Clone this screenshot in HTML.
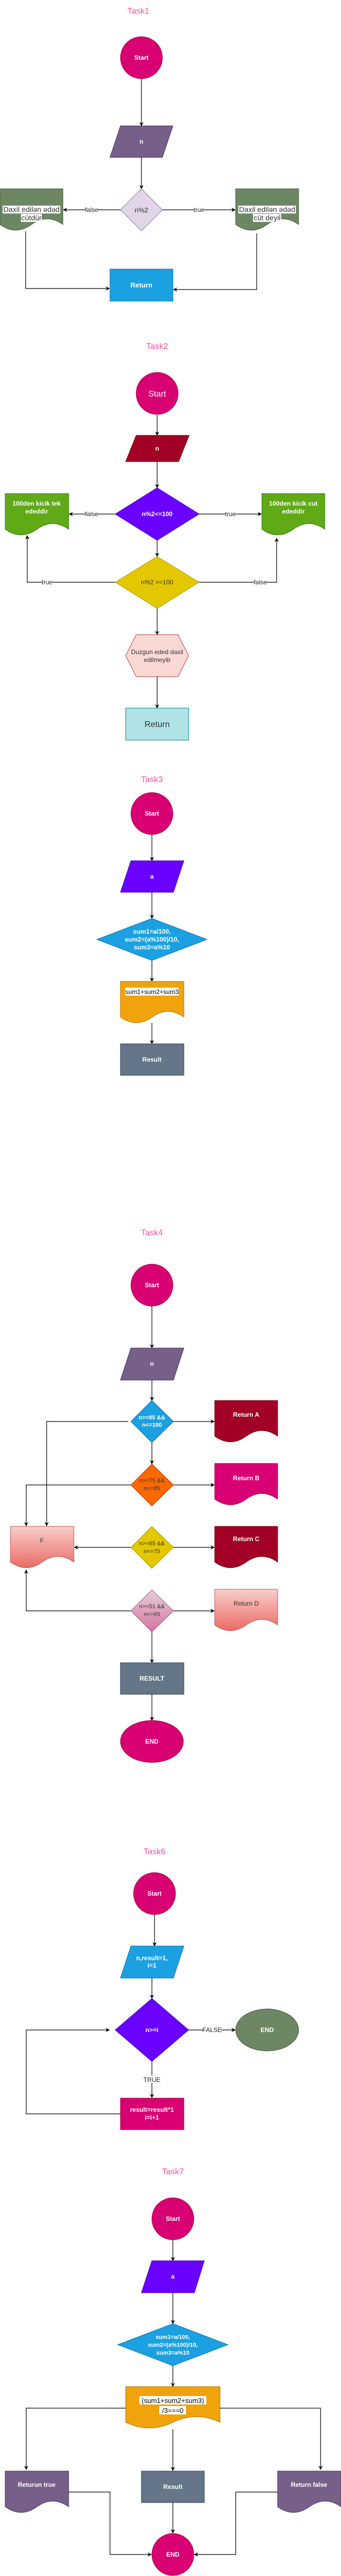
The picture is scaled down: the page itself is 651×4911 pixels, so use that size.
<!DOCTYPE html>
<html><head><meta charset="utf-8"><style>
html,body{margin:0;padding:0;background:#fff;}
svg{display:block;}
text{font-family:"Liberation Sans",Arial,sans-serif;}
.t{font-size:16px;fill:#ff4da6;text-anchor:middle;}
.w{font-size:12px;fill:#fff;font-weight:bold;text-anchor:middle;}
.d{font-size:12px;fill:#333;text-anchor:middle;}
.l{font-size:12px;fill:#222;text-anchor:middle;}
.c{stroke:#000;stroke-width:1.2;fill:none;}
</style></head><body>
<svg width="651" height="4911" viewBox="0 0 651 4911" xmlns="http://www.w3.org/2000/svg">
<defs>
<marker id="a" viewBox="0 0 10 10" refX="9" refY="5" markerWidth="8" markerHeight="8" orient="auto" markerUnits="userSpaceOnUse"><path d="M0,0 L10,5 L0,10 L3,5 Z" fill="#000"/></marker>
<linearGradient id="gr" x1="0" y1="0" x2="0" y2="1"><stop offset="0" stop-color="#f8cecc"/><stop offset="1" stop-color="#ea6b66"/></linearGradient>
<linearGradient id="gp" x1="0" y1="0" x2="0" y2="1"><stop offset="0" stop-color="#e6d0de"/><stop offset="1" stop-color="#d5739d"/></linearGradient>
</defs>

<!-- TASK1 -->
<text class="t" x="264" y="26">Task1</text>
<circle cx="270" cy="110" r="40" fill="#d80073" stroke="#a50040"/>
<text class="w" x="270" y="114">Start</text>
<line class="c" x1="270" y1="150" x2="270" y2="240" marker-end="url(#a)"/>
<polygon points="230,240 330,240 310,300 210,300" fill="#76608a" stroke="#432d57"/>
<text class="w" x="270" y="274">n</text>
<line class="c" x1="270" y1="300" x2="270" y2="360" marker-end="url(#a)"/>
<polygon points="270,360 310,400 270,440 230,400" fill="#e1d5e7" stroke="#9673a6"/>
<text class="d" x="270" y="405" style="font-size:13px">n%2</text>
<line class="c" x1="230" y1="400" x2="121" y2="400" marker-end="url(#a)"/>
<rect x="163" y="393" width="24" height="13" fill="#fff"/><text class="l" x="175" y="404">false</text>
<line class="c" x1="310" y1="400" x2="449" y2="400" marker-end="url(#a)"/>
<rect x="370" y="393" width="20" height="13" fill="#fff"/><text class="l" x="380" y="404">true</text>
<path d="M0 360 H120 V428 Q90 406.4 60 428 Q30 449.6 0 428 Z" fill="#6d8764" stroke="#3a5431"/>
<path d="M450 360 H570 V428 Q540 406.4 510 428 Q480 449.6 450 428 Z" fill="#6d8764" stroke="#3a5431"/>
<rect x="5" y="392" width="110" height="15" fill="#fff"/><rect x="40" y="408" width="40" height="15" fill="#fff"/>
<text class="d" x="60" y="404" style="font-size:14px">Daxil edilən ədəd</text>
<text class="d" x="60" y="420" style="font-size:14px">cütdür</text>
<rect x="455" y="392" width="110" height="15" fill="#fff"/><rect x="483" y="408" width="54" height="15" fill="#fff"/>
<text class="d" x="510" y="404" style="font-size:14px">Daxil edilən ədəd</text>
<text class="d" x="510" y="420" style="font-size:14px">cüt deyil</text>
<polyline class="c" points="49,441 49,550 209,550" marker-end="url(#a)"/>
<polyline class="c" points="490,445 490,552 331,552" marker-end="url(#a)"/>
<rect x="210" y="513" width="120" height="61" fill="#1ba1e2" stroke="#006eaf"/>
<text class="w" x="270" y="548" style="font-size:13px">Return</text>

<!-- TASK2 -->
<text class="t" x="300" y="665">Task2</text>
<ellipse cx="300" cy="750" rx="40" ry="40" fill="#d80073" stroke="#a50040"/>
<text x="300" y="756" style="font-size:16px;fill:#fff;text-anchor:middle">Start</text>
<line class="c" x1="300" y1="791" x2="300" y2="830" marker-end="url(#a)"/>
<polygon points="260,830 361,830 341,880 240,880" fill="#a20025" stroke="#6f0000"/>
<text class="w" x="300" y="859">n</text>
<line class="c" x1="300" y1="880" x2="300" y2="930" marker-end="url(#a)"/>
<polygon points="300,930 380,980 300,1030 220,980" fill="#6a00ff" stroke="#3700cc"/>
<text class="w" x="300" y="984">n%2&lt;=100</text>
<line class="c" x1="220" y1="980" x2="132" y2="980" marker-end="url(#a)"/>
<rect x="163" y="973" width="24" height="13" fill="#fff"/><text class="l" x="175" y="984">false</text>
<line class="c" x1="380" y1="980" x2="499" y2="980" marker-end="url(#a)"/>
<rect x="430" y="973" width="20" height="13" fill="#fff"/><text class="l" x="440" y="984">true</text>
<path d="M10 941 H131 V1009 Q100.75 987.4 70.5 1009 Q40.25 1030.6 10 1009 Z" fill="#60a917" stroke="#2d7600"/>
<text class="w" x="70" y="964">100den kicik tek</text><text class="w" x="70" y="979">ededdir</text>
<path d="M500 941 H620 V1009 Q590 987.4 560 1009 Q530 1030.6 500 1009 Z" fill="#60a917" stroke="#2d7600"/>
<text class="w" x="560" y="964">100den kicik cut</text><text class="w" x="560" y="979">ededdir</text>
<line class="c" x1="300" y1="1030" x2="300" y2="1061" marker-end="url(#a)"/>
<polygon points="300,1061 380,1110 300,1160 220,1110" fill="#e3c800" stroke="#b09500"/>
<text class="d" x="300" y="1114">n%2 &gt;=100</text>
<polyline class="c" points="220,1110 52,1110 52,1021" marker-end="url(#a)"/>
<rect x="80" y="1103" width="20" height="13" fill="#fff"/><text class="l" x="90" y="1114">true</text>
<polyline class="c" points="380,1110 528,1110 528,1026" marker-end="url(#a)"/>
<rect x="485" y="1103" width="24" height="13" fill="#fff"/><text class="l" x="497" y="1114">false</text>
<line class="c" x1="300" y1="1160" x2="300" y2="1210" marker-end="url(#a)"/>
<polygon points="260,1210 340,1210 360,1250 340,1290 260,1290 240,1250" fill="#fad9d5" stroke="#ae4132"/>
<text class="d" x="300" y="1247">Duzgun eded daxil</text><text class="d" x="300" y="1262">edilmeyib</text>
<line class="c" x1="300" y1="1290" x2="300" y2="1350" marker-end="url(#a)"/>
<rect x="240" y="1350" width="120" height="61" fill="#b0e3e6" stroke="#0e8088"/>
<text x="300" y="1386" style="font-size:16px;fill:#333;text-anchor:middle">Return</text>

<!-- TASK3 -->
<text class="t" x="290" y="1491">Task3</text>
<ellipse cx="290" cy="1551" rx="40" ry="40" fill="#d80073" stroke="#a50040"/>
<text class="w" x="290" y="1555">Start</text>
<line class="c" x1="290" y1="1591" x2="290" y2="1641" marker-end="url(#a)"/>
<polygon points="250,1641 351,1641 331,1701 230,1701" fill="#6a00ff" stroke="#3700cc"/>
<text class="w" x="290" y="1675">a</text>
<line class="c" x1="290" y1="1701" x2="290" y2="1751" marker-end="url(#a)"/>
<polygon points="290,1751 395,1791 290,1831 185,1791" fill="#1ba1e2" stroke="#006eaf"/>
<text class="w" x="290" y="1780">sum1=a/100,</text><text class="w" x="290" y="1795">sum2=(a%100)/10,</text><text class="w" x="290" y="1810">sum3=a%10</text>
<line class="c" x1="290" y1="1831" x2="290" y2="1871" marker-end="url(#a)"/>
<path d="M230 1871 H351 V1939 Q320.75 1917.4 290.5 1939 Q260.25 1960.6 230 1939 Z" fill="#f0a30a" stroke="#bd7000"/>
<rect x="239" y="1883" width="102" height="15" fill="#fff"/>
<text x="290" y="1895" style="font-size:12px;fill:#000;text-anchor:middle">sum1+sum2+sum3</text>
<line class="c" x1="290" y1="1950" x2="290" y2="1990" marker-end="url(#a)"/>
<rect x="230" y="1990" width="121" height="60" fill="#647687" stroke="#314354"/>
<text class="w" x="290" y="2024">Result</text>

<!-- TASK4 -->
<text class="t" x="290" y="2355">Task4</text>
<ellipse cx="290" cy="2450" rx="40" ry="40" fill="#d80073" stroke="#a50040"/>
<text class="w" x="290" y="2454">Start</text>
<line class="c" x1="290" y1="2490" x2="290" y2="2570" marker-end="url(#a)"/>
<polygon points="250,2570 351,2570 331,2631 230,2631" fill="#76608a" stroke="#432d57"/>
<text class="w" x="290" y="2604">n</text>
<line class="c" x1="290" y1="2631" x2="290" y2="2670" marker-end="url(#a)"/>
<polygon points="290,2670 331,2710 290,2750 250,2710" fill="#1ba1e2" stroke="#006eaf"/>
<text class="w" x="290" y="2706" style="font-size:11px">n&gt;=85 &amp;&amp;</text><text class="w" x="290" y="2720" style="font-size:11px">n&lt;=100</text>
<line class="c" x1="331" y1="2710" x2="409" y2="2710" marker-end="url(#a)"/>
<path d="M410 2670 H530 V2738 Q500 2716.4 470 2738 Q440 2759.6 410 2738 Z" fill="#a20025" stroke="#6f0000"/>
<text class="w" x="470" y="2701">Return A</text>
<polyline class="c" points="245,2710 89,2710 89,2909" marker-end="url(#a)"/>
<line class="c" x1="290" y1="2750" x2="290" y2="2791" marker-end="url(#a)"/>
<polygon points="290,2791 331,2831 290,2871 250,2831" fill="#fa6800" stroke="#c73500"/>
<text class="d" x="290" y="2826" style="font-size:11px">n&gt;=75 &amp;&amp;</text><text class="d" x="290" y="2841" style="font-size:11px">n&lt;=85</text>
<line class="c" x1="331" y1="2831" x2="409" y2="2831" marker-end="url(#a)"/>
<path d="M410 2790 H530 V2858 Q500 2836.4 470 2858 Q440 2879.6 410 2858 Z" fill="#d80073" stroke="#a50040"/>
<text class="w" x="470" y="2822">Return B</text>
<polyline class="c" points="250,2831 50,2831 50,2909" marker-end="url(#a)"/>
<path d="M20 2910 H141 V2978 Q110.75 2956.4 80.5 2978 Q50.25 2999.6 20 2978 Z" fill="url(#gr)" stroke="#b85450"/>
<text class="d" x="80" y="2941">F</text>
<polygon points="290,2910 331,2950 290,2990 250,2950" fill="#e3c800" stroke="#b09500"/>
<text class="d" x="290" y="2946" style="font-size:11px">n&gt;=65 &amp;&amp;</text><text class="d" x="290" y="2961" style="font-size:11px">n&lt;=75</text>
<line class="c" x1="250" y1="2950" x2="142" y2="2950" marker-end="url(#a)"/>
<line class="c" x1="331" y1="2950" x2="409" y2="2950" marker-end="url(#a)"/>
<path d="M410 2910 H530 V2978 Q500 2956.4 470 2978 Q440 2999.6 410 2978 Z" fill="#a20025" stroke="#6f0000"/>
<text class="w" x="470" y="2938">Return C</text>
<polygon points="290,3031 331,3071 290,3111 250,3071" fill="url(#gp)" stroke="#996185"/>
<text class="d" x="290" y="3066" style="font-size:11px">n&gt;=51 &amp;&amp;</text><text class="d" x="290" y="3081" style="font-size:11px">n&lt;=65</text>
<polyline class="c" points="250,3071 50,3071 50,2993" marker-end="url(#a)"/>
<line class="c" x1="331" y1="3071" x2="409" y2="3071" marker-end="url(#a)"/>
<path d="M410 3030 H530 V3098 Q500 3076.4 470 3098 Q440 3119.6 410 3098 Z" fill="url(#gr)" stroke="#b85450"/>
<text class="d" x="470" y="3061">Return D</text>
<line class="c" x1="290" y1="3111" x2="290" y2="3170" marker-end="url(#a)"/>
<rect x="230" y="3170" width="121" height="60" fill="#647687" stroke="#314354"/>
<text class="w" x="290" y="3204">RESULT</text>
<line class="c" x1="290" y1="3230" x2="290" y2="3280" marker-end="url(#a)"/>
<ellipse cx="290" cy="3320" rx="60" ry="40" fill="#d80073" stroke="#a50040"/>
<text class="w" x="290" y="3324">END</text>

<!-- TASK6 -->
<text class="t" x="295" y="3535">Task6</text>
<ellipse cx="295" cy="3610" rx="40" ry="40" fill="#d80073" stroke="#a50040"/>
<text class="w" x="295" y="3614">Start</text>
<line class="c" x1="295" y1="3650" x2="295" y2="3710" marker-end="url(#a)"/>
<polygon points="250,3710 351,3710 331,3771 230,3771" fill="#1ba1e2" stroke="#006eaf"/>
<text class="w" x="290" y="3737">n,result=1,</text><text class="w" x="290" y="3751">i=1</text>
<line class="c" x1="290" y1="3771" x2="290" y2="3810" marker-end="url(#a)"/>
<polygon points="290,3810 360,3870 290,3930 220,3870" fill="#6a00ff" stroke="#3700cc"/>
<text class="w" x="290" y="3874">n&gt;=i</text>
<line class="c" x1="360" y1="3870" x2="449" y2="3870" marker-end="url(#a)"/>
<rect x="388" y="3863" width="34" height="13" fill="#fff"/><text class="l" x="405" y="3874">FALSE</text>
<ellipse cx="510" cy="3870" rx="60" ry="40" fill="#6d8764" stroke="#3a5431"/>
<text class="w" x="510" y="3874">END</text>
<line class="c" x1="290" y1="3930" x2="290" y2="3999" marker-end="url(#a)"/>
<rect x="273" y="3957" width="34" height="14" fill="#fff"/><text class="l" x="290" y="3969">TRUE</text>
<rect x="230" y="4000" width="121" height="60" fill="#d80073" stroke="#a50040"/>
<text class="w" x="290" y="4026">result=result*1</text><text class="w" x="290" y="4041">i=i+1</text>
<polyline class="c" points="230,4030 50,4030 50,3870 209,3870" marker-end="url(#a)"/>

<!-- TASK7 -->
<text class="t" x="330" y="4145">Task7</text>
<ellipse cx="330" cy="4230" rx="40" ry="40" fill="#d80073" stroke="#a50040"/>
<text class="w" x="330" y="4234">Start</text>
<line class="c" x1="330" y1="4270" x2="330" y2="4310" marker-end="url(#a)"/>
<polygon points="290,4310 390,4310 371,4371 270,4371" fill="#6a00ff" stroke="#3700cc"/>
<text class="w" x="330" y="4344">a</text>
<line class="c" x1="330" y1="4371" x2="330" y2="4430" marker-end="url(#a)"/>
<polygon points="330,4430 435,4470 330,4510 225,4470" fill="#1ba1e2" stroke="#006eaf"/>
<text class="w" x="330" y="4459" style="font-size:11px">sum1=a/100,</text><text class="w" x="330" y="4474" style="font-size:11px">sum2=(a%100)/10,</text><text class="w" x="330" y="4489" style="font-size:11px">sum3=a%10</text>
<line class="c" x1="330" y1="4510" x2="330" y2="4550" marker-end="url(#a)"/>
<path d="M240 4550 H420 V4618 Q375 4596.4 330 4618 Q285 4639.6 240 4618 Z" fill="#f0a30a" stroke="#bd7000"/>
<rect x="266" y="4568" width="128" height="16" fill="#fff"/><rect x="304" y="4587" width="51" height="16" fill="#fff"/>
<text x="330" y="4581" style="font-size:13px;fill:#000;text-anchor:middle">(sum1+sum2+sum3)</text>
<text x="330" y="4600" style="font-size:13px;fill:#000;text-anchor:middle">/3===0</text>
<polyline class="c" points="240,4591 50,4591 50,4708" marker-end="url(#a)"/>
<polyline class="c" points="420,4591 612,4591 612,4708" marker-end="url(#a)"/>
<line class="c" x1="330" y1="4631" x2="330" y2="4710" marker-end="url(#a)"/>
<path d="M10 4711 H131 V4779 Q100.75 4757.4 70.5 4779 Q40.25 4800.6 10 4779 Z" fill="#76608a" stroke="#432d57"/>
<text class="w" x="70" y="4741">Returun true</text>
<rect x="270" y="4711" width="120" height="60" fill="#647687" stroke="#314354"/>
<text class="w" x="330" y="4745">Result</text>
<path d="M530 4711 H651 V4779 Q620.75 4757.4 590.5 4779 Q560.25 4800.6 530 4779 Z" fill="#76608a" stroke="#432d57"/>
<text class="w" x="590" y="4741">Return false</text>
<line class="c" x1="330" y1="4771" x2="330" y2="4829" marker-end="url(#a)"/>
<ellipse cx="330" cy="4870" rx="40" ry="40" fill="#d80073" stroke="#a50040"/>
<text class="w" x="330" y="4874">END</text>
<polyline class="c" points="131,4751 210,4751 210,4870 289,4870" marker-end="url(#a)"/>
<polyline class="c" points="530,4751 450,4751 450,4870 371,4870" marker-end="url(#a)"/>
</svg>
</body></html>
